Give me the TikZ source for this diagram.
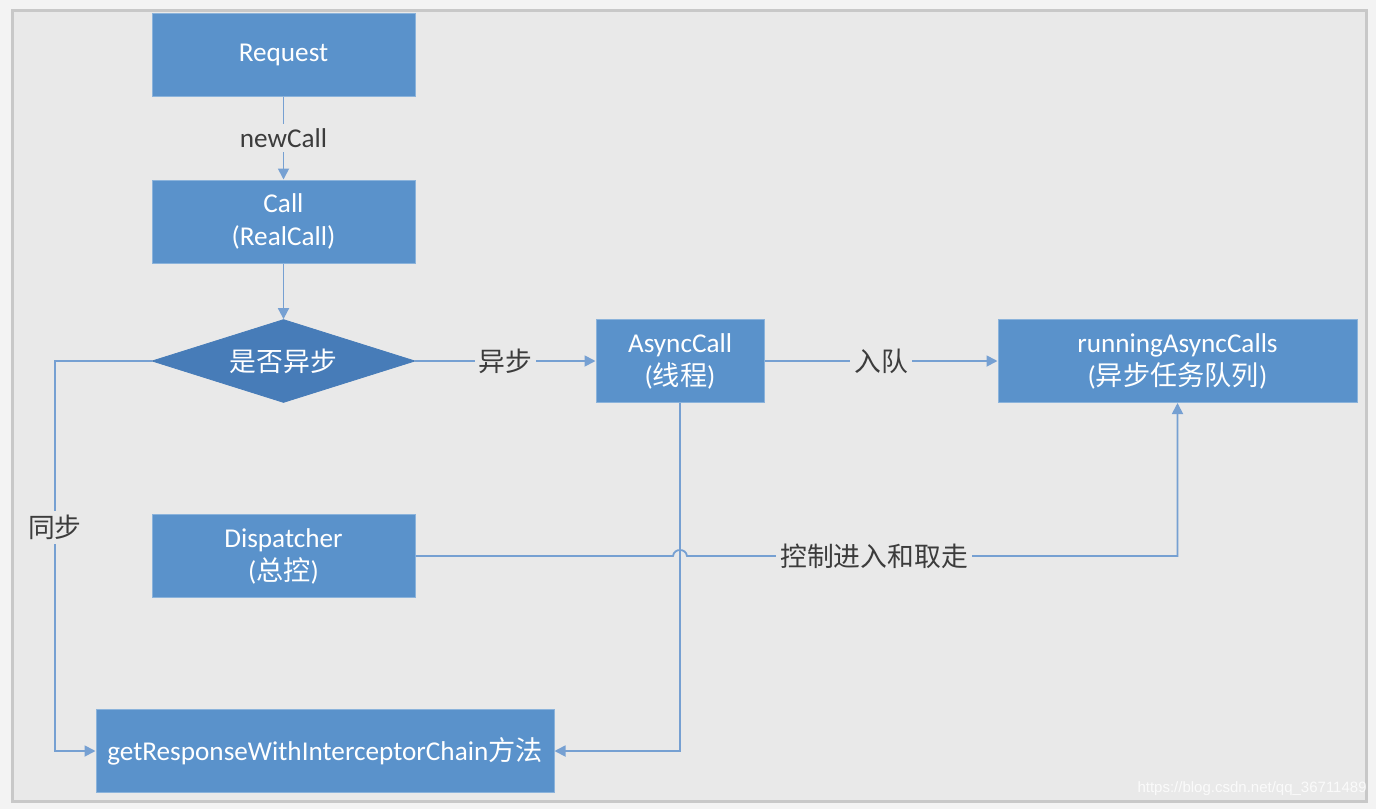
\documentclass[tikz,border=0pt]{standalone}
\usepackage{fontspec}
\setmainfont{Carlito}
\newfontfamily\cjk{Noto Sans CJK SC}
\newfontfamily\wmfont{Liberation Sans}
\usetikzlibrary{shapes.geometric,arrows.meta}
\definecolor{bgout}{HTML}{F3F3F3}
\definecolor{bgin}{HTML}{E9E9E9}
\definecolor{framec}{HTML}{C8C8C8}
\definecolor{boxblue}{HTML}{5A92CB}
\definecolor{diablue}{HTML}{477CB8}
\definecolor{linec}{HTML}{76A0D2}
\definecolor{labc}{HTML}{3C3C3C}
\begin{document}
\begin{tikzpicture}[x=0.5pt,y=-0.5pt,
  box/.style={rectangle, fill=boxblue, draw=boxblue!70!white, line width=0.5pt,
    text=white, minimum width=131.5pt, minimum height=41.5pt, inner sep=0pt,
    align=center, font=\fontsize{13.6}{16.5}\selectfont},
  decision/.style={diamond, fill=diablue, draw=diablue, text=white, inner sep=0pt,
    aspect=3.17, minimum width=131.5pt, minimum height=41.5pt,
    font=\fontsize{13.4}{16.5}\selectfont\cjk},
  conn/.style={draw=linec, line width=0.9pt},
  arr/.style={conn, -{Triangle[length=5.5pt,width=5.5pt]}},
  lab/.style={fill=bgin, text=labc, inner sep=2pt, font=\fontsize{13.6}{16}\selectfont},
  cjklab/.style={lab, font=\fontsize{13.4}{16}\selectfont\cjk},
]
\useasboundingbox (0,0) rectangle (1376,809);
\fill[bgout] (0,0) rectangle (1376,809);
\draw[fill=bgin, draw=framec, line width=1.5pt] (12,10) rectangle (1366,801);

\node[box] (req) at (283.5,54.5) {Request};
\node[box] (call) at (283.5,221.5) {Call\\(RealCall)};
\node[decision] (dia) at (283.5,361) {是否异步};
\node[box, minimum width=84pt] (async) at (680,361) {AsyncCall\\({\cjk 线程})};
\node[box, minimum width=179.5pt] (run) at (1177.5,361) {runningAsyncCalls\\({\cjk 异步任务队列})};
\node[box] (disp) at (283.5,556) {Dispatcher\\({\cjk 总控})};
\node[box, minimum width=229pt] (getr) at (325,751) {getResponseWithInterceptorChain{\cjk 方法}};

\coordinate (c1) at (55,361);
\coordinate (jA) at (673,556);
\coordinate (jB) at (687,556);

\draw[arr] (req) -- node[lab] (l1) {newCall} (call);
\draw[arr] (call) -- (dia);
\draw[arr] (dia.east) -- node[cjklab] (l2) {异步} (async.west);
\draw[arr] (async.east) -- node[cjklab] (l3) {入队} (run.west);
\draw[arr] (dia.west) -- (c1) |- node[cjklab, pos=0.213] (l4) {同步} (getr.west);
\draw[arr] (async.south) |- (getr.east);
\draw[arr] (disp.east) -- (jA) .. controls +(1,-8) and +(-1,-8) .. (jB) -- (run.south |- disp.east) -- (run.south);
\node[cjklab] (l5) at (874,556) {控制进入和取走};

\node[anchor=east, text=white, opacity=0.8, inner sep=0pt, font=\fontsize{7.5}{9}\selectfont\wmfont] (wm) at (1367,789) {https://blog.csdn.net/qq\_36711489};
\end{tikzpicture}
\end{document}
